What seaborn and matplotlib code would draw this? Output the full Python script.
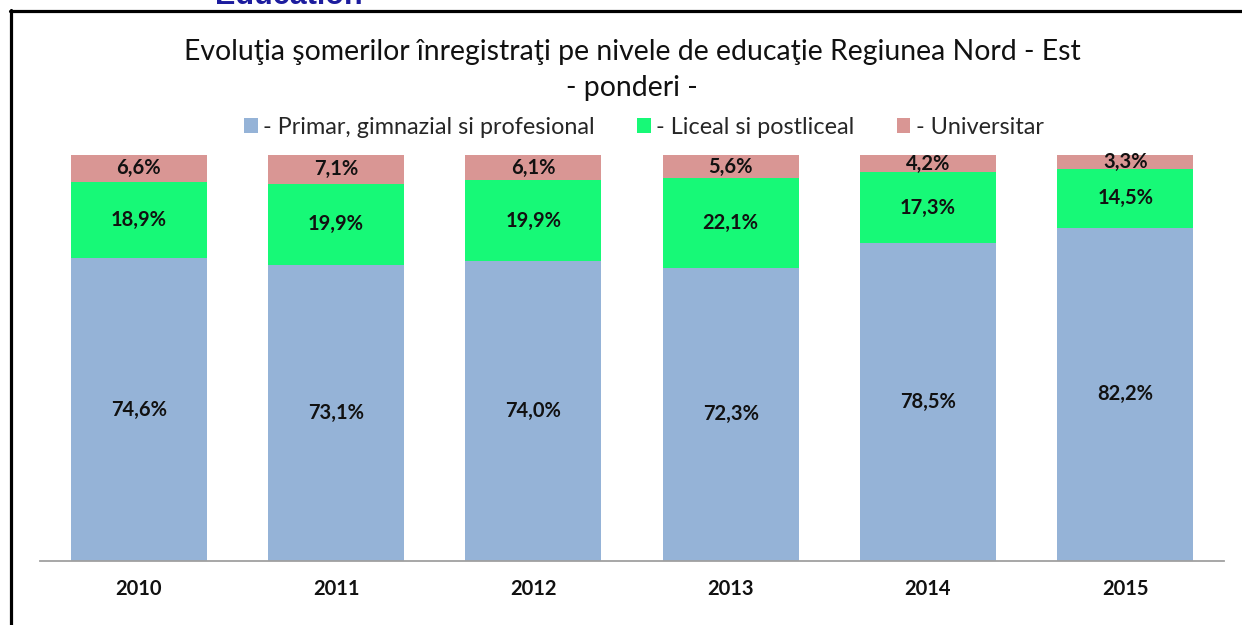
import matplotlib
matplotlib.use("Agg")
import matplotlib.pyplot as plt
from matplotlib.patches import Patch
from matplotlib.lines import Line2D
import seaborn as sns
import pandas as pd
import numpy as np

years = ["2010", "2011", "2012", "2013", "2014", "2015"]
primar = [74.6, 73.1, 74.0, 72.3, 78.5, 82.2]
liceal = [18.9, 19.9, 19.9, 22.1, 17.3, 14.5]
universitar = [6.6, 7.1, 6.1, 5.6, 4.2, 3.3]
series_names = ["- Primar, gimnazial si profesional", "- Liceal si postliceal", "- Universitar"]
title_line1 = "Evoluţia şomerilor înregistraţi pe nivele de educaţie Regiunea Nord - Est"
title_line2 = "- ponderi -"

colors = ["#95B3D7", "#17F977", "#D99694"]

sns.set_theme(style="white")
plt.rcParams["font.family"] = ["Lato", "DejaVu Sans"]

df = pd.DataFrame({"year": years, "primar": primar, "liceal": liceal, "universitar": universitar})
df["c1"] = df["primar"]
df["c2"] = df["primar"] + df["liceal"]
df["c3"] = df["c2"] + df["universitar"]

fig = plt.figure(figsize=(12.42, 6.25), dpi=100)
ax = fig.add_axes([40/1242, 64/625, (1224-40)/1242, (561-155)/625])

for col, c in [("c3", colors[2]), ("c2", colors[1]), ("c1", colors[0])]:
    sns.barplot(data=df, x="year", y=col, color=c, width=0.69, ax=ax,
                saturation=1, linewidth=0, order=years)

ax.set_ylim(0, 100.1)
ax.set_xlim(-0.5, 5.5)
ax.set_xlabel("")
ax.set_ylabel("")
ax.set_yticks([])
for s in ["top", "right", "left"]:
    ax.spines[s].set_visible(False)
ax.spines["bottom"].set_color("#A0A0A0")
ax.spines["bottom"].set_linewidth(1.3)
ax.tick_params(axis="x", length=0, pad=13)
for lab in ax.get_xticklabels():
    lab.set_fontweight("bold")
    lab.set_fontsize(14.5)
    lab.set_color("#111111")

def fmt(v):
    return f"{v:.1f}%".replace(".", ",")

for i in range(len(years)):
    bases = [0, df["c1"][i], df["c2"][i]]
    vals = [primar[i], liceal[i], universitar[i]]
    for b, v in zip(bases, vals):
        ax.text(i, b + v / 2, fmt(v), ha="center", va="center",
                fontsize=14.5, fontweight="bold", color="#111111")

fig.text(632/1242, 1 - 60/625, title_line1, ha="center", va="baseline",
         fontsize=20.4, color="#111111")
fig.text(632/1242, 1 - 96/625, title_line2, ha="center", va="baseline",
         fontsize=20.4, color="#111111")

handles = [Patch(facecolor=c, edgecolor="none") for c in colors]
fig.legend(handles, series_names, loc="center", bbox_to_anchor=(644/1242, 1 - 127/625),
           ncol=3, frameon=False, fontsize=16.8, handlelength=0.58, handleheight=0.58,
           handletextpad=0.25, columnspacing=1.8)

fig.text(215/1242, 1 - 4/625, "Education", ha="left", va="baseline",
         fontsize=22, fontweight="bold", color="#1C1C9E", family=["Liberation Sans", "DejaVu Sans"])

fig.add_artist(Line2D([10/1242, 1], [1 - 11/625, 1 - 11/625], color="black", linewidth=2.3,
                      transform=fig.transFigure))
fig.add_artist(Line2D([10.5/1242, 10.5/1242], [0, 1 - 10/625], color="black", linewidth=2.3,
                      transform=fig.transFigure))

fig.savefig("out.png", dpi=100)
